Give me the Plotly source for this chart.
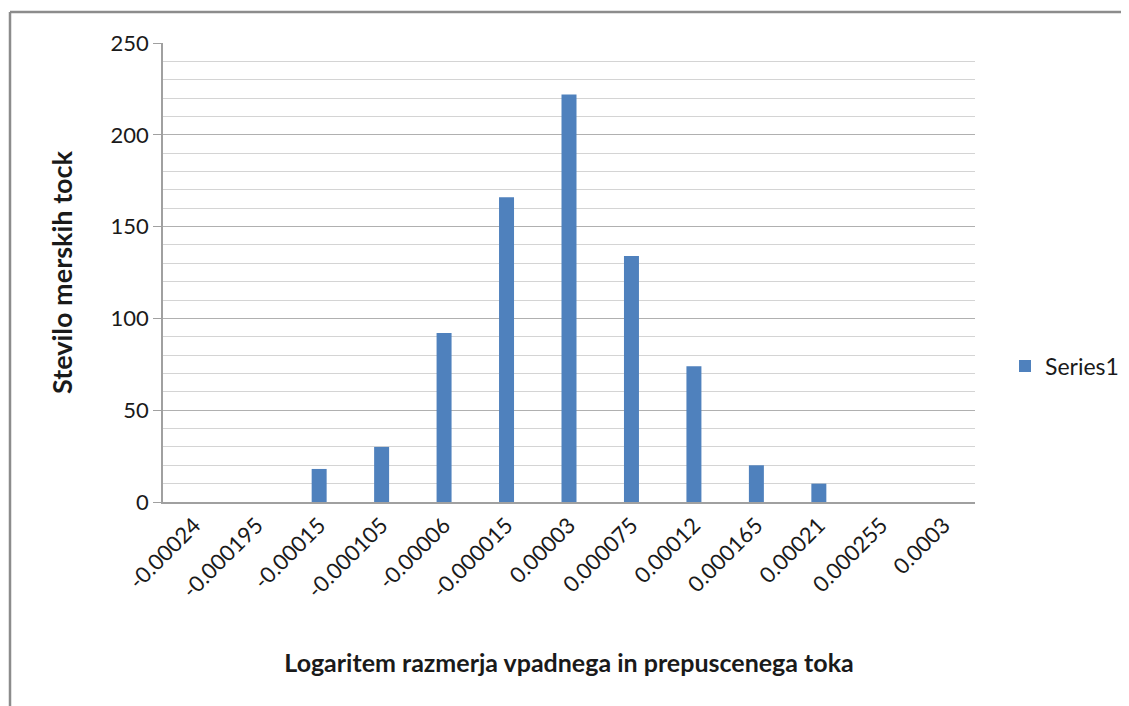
import plotly.graph_objects as go

categories = ["-0.00024", "-0.000195", "-0.00015", "-0.000105", "-0.00006", "-0.000015",
              "0.00003", "0.000075", "0.00012", "0.000165", "0.00021", "0.000255", "0.0003"]
values = [0, 0, 18, 30, 92, 166, 222, 134, 74, 20, 10, 0, 0]
series_name = "Series1"
y_ticks = [0, 50, 100, 150, 200, 250]

# page geometry (the page body adds an 8px offset)
O = 8
L, R, T, B = 163, 975, 43, 502
W, H = 1129, 706
pw, ph = R - L, B - T

def px(x):
    return (x - L) / pw

def py(y):
    return (B - y) / ph

font = "Lato, Carlito, Calibri, sans-serif"
txt = "#1a1a1a"

fig = go.Figure()
fig.add_trace(go.Bar(x=categories, y=values, name=series_name,
                     marker=dict(color="#4F81BD", line=dict(width=0))))

fig.update_layout(
    width=W - O, height=H - O,
    margin=dict(l=L - O, r=W - R, t=T - O, b=H - B, autoexpand=False),
    paper_bgcolor="white", plot_bgcolor="white",
    bargap=0.76,
    font=dict(family=font, size=22, color=txt),
    showlegend=True,
    legend=dict(x=px(1005), y=py(366), xanchor="left", yanchor="middle",
                font=dict(size=23, family=font, color=txt), itemwidth=30),
    xaxis=dict(
        type="category", tickangle=-45, showgrid=False,
        showline=True, linecolor="#a0a0a0", linewidth=1.5,
        ticks="", tickfont=dict(size=22, family=font, color=txt),
        title=dict(text="<b>Logaritem razmerja vpadnega in prepuscenega toka</b>",
                   font=dict(size=25, family=font, color=txt), standoff=52),
    ),
    yaxis=dict(
        range=[0, 250], tickvals=y_ticks, showgrid=True, gridcolor="#b0b0b0", gridwidth=1.2,
        showline=True, linecolor="#a0a0a0", linewidth=1.5,
        ticks="outside", ticklen=8, tickcolor="#a0a0a0", zeroline=False,
        tickfont=dict(size=22, family=font, color=txt),
        minor=dict(dtick=10, showgrid=True, gridcolor="#d4d4d4", gridwidth=1.2, ticks=""),
        title=dict(text="<b>Stevilo merskih tock</b>",
                   font=dict(size=27, family=font, color=txt), standoff=30),
    ),
    shapes=[
        dict(type="line", xref="paper", yref="paper", x0=px(10), x1=px(1129), y0=py(12), y1=py(12),
             line=dict(color="#8c8c8c", width=2.5)),
        dict(type="line", xref="paper", yref="paper", x0=px(10), x1=px(10), y0=py(12), y1=py(706),
             line=dict(color="#8c8c8c", width=2.5)),
    ],
)

fig.write_html("out.html")
